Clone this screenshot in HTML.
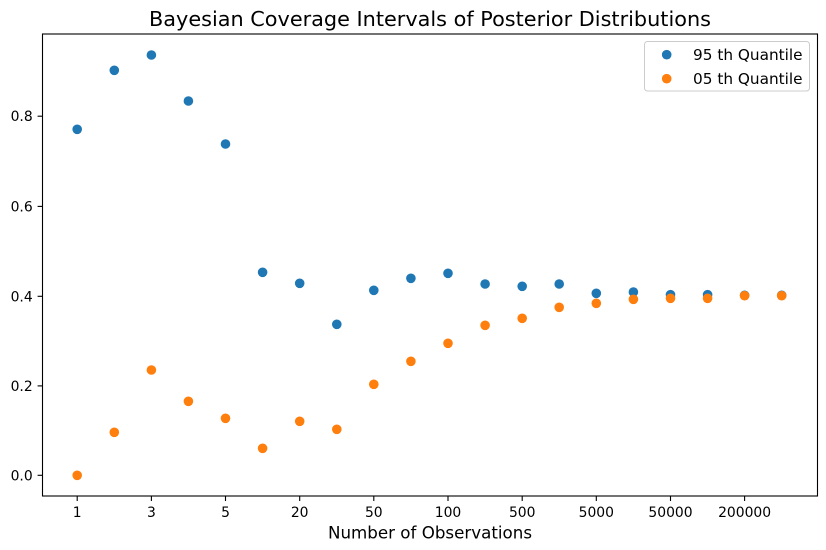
<!DOCTYPE html>
<html>
<head>
<meta charset="utf-8">
<style>
  html,body{margin:0;padding:0;background:#fff;}
  svg{display:block;}
  text{font-family:"DejaVu Sans","Liberation Sans",sans-serif;fill:#000;}
</style>
</head>
<body>
<svg width="826" height="550" viewBox="0 0 826 550" xmlns="http://www.w3.org/2000/svg">
  <rect x="0" y="0" width="826" height="550" fill="#fff"/>
  <!-- title -->
  <text x="430" y="26" font-size="20.8" text-anchor="middle">Bayesian Coverage Intervals of Posterior Distributions</text>

  <!-- blue series -->
  <g fill="#1f77b4">
    <circle cx="77.2" cy="129.3" r="4.8"/>
    <circle cx="114.3" cy="70.3" r="4.8"/>
    <circle cx="151.4" cy="55" r="4.8"/>
    <circle cx="188.4" cy="101" r="4.8"/>
    <circle cx="225.5" cy="144" r="4.8"/>
    <circle cx="262.6" cy="272.3" r="4.8"/>
    <circle cx="299.7" cy="283.3" r="4.8"/>
    <circle cx="336.8" cy="324.3" r="4.8"/>
    <circle cx="373.8" cy="290.3" r="4.8"/>
    <circle cx="410.9" cy="278.3" r="4.8"/>
    <circle cx="448.0" cy="273.3" r="4.8"/>
    <circle cx="485.1" cy="284" r="4.8"/>
    <circle cx="522.2" cy="286.3" r="4.8"/>
    <circle cx="559.2" cy="284" r="4.8"/>
    <circle cx="596.3" cy="293.3" r="4.8"/>
    <circle cx="633.4" cy="292" r="4.8"/>
    <circle cx="670.5" cy="294.7" r="4.8"/>
    <circle cx="707.6" cy="294.7" r="4.8"/>
    <circle cx="744.6" cy="295.3" r="4.8"/>
    <circle cx="781.7" cy="295.3" r="4.8"/>
  </g>
  <!-- orange series -->
  <g fill="#ff7f0e">
    <circle cx="77.2" cy="475.3" r="4.8"/>
    <circle cx="114.3" cy="432.3" r="4.8"/>
    <circle cx="151.4" cy="370" r="4.8"/>
    <circle cx="188.4" cy="401.3" r="4.8"/>
    <circle cx="225.5" cy="418.3" r="4.8"/>
    <circle cx="262.6" cy="448.3" r="4.8"/>
    <circle cx="299.7" cy="421.3" r="4.8"/>
    <circle cx="336.8" cy="429.3" r="4.8"/>
    <circle cx="373.8" cy="384.3" r="4.8"/>
    <circle cx="410.9" cy="361.3" r="4.8"/>
    <circle cx="448.0" cy="343.3" r="4.8"/>
    <circle cx="485.1" cy="325.3" r="4.8"/>
    <circle cx="522.2" cy="318.3" r="4.8"/>
    <circle cx="559.2" cy="307.3" r="4.8"/>
    <circle cx="596.3" cy="303.3" r="4.8"/>
    <circle cx="633.4" cy="299.3" r="4.8"/>
    <circle cx="670.5" cy="298.3" r="4.8"/>
    <circle cx="707.6" cy="298.3" r="4.8"/>
    <circle cx="744.6" cy="295.7" r="4.8"/>
    <circle cx="781.7" cy="295.7" r="4.8"/>
  </g>

  <!-- axes frame -->
  <rect x="42.5" y="34" width="775" height="462" fill="none" stroke="#000" stroke-width="1.1"/>

  <!-- x ticks -->
  <g stroke="#000" stroke-width="1.1">
    <line x1="77.2" y1="496" x2="77.2" y2="501"/>
    <line x1="151.4" y1="496" x2="151.4" y2="501"/>
    <line x1="225.5" y1="496" x2="225.5" y2="501"/>
    <line x1="299.7" y1="496" x2="299.7" y2="501"/>
    <line x1="373.8" y1="496" x2="373.8" y2="501"/>
    <line x1="448.0" y1="496" x2="448.0" y2="501"/>
    <line x1="522.2" y1="496" x2="522.2" y2="501"/>
    <line x1="596.3" y1="496" x2="596.3" y2="501"/>
    <line x1="670.5" y1="496" x2="670.5" y2="501"/>
    <line x1="744.6" y1="496" x2="744.6" y2="501"/>
  </g>
  <g font-size="13.9" text-anchor="middle">
    <text x="77.2" y="517">1</text>
    <text x="151.4" y="517">3</text>
    <text x="225.5" y="517">5</text>
    <text x="299.7" y="517">20</text>
    <text x="373.8" y="517">50</text>
    <text x="448.0" y="517">100</text>
    <text x="522.2" y="517">500</text>
    <text x="596.3" y="517">5000</text>
    <text x="670.5" y="517">50000</text>
    <text x="744.6" y="517">200000</text>
  </g>
  <text x="430" y="538.5" font-size="16.7" text-anchor="middle">Number of Observations</text>

  <!-- y ticks -->
  <g stroke="#000" stroke-width="1.1">
    <line x1="37.6" y1="475.3" x2="42.5" y2="475.3"/>
    <line x1="37.6" y1="385.9" x2="42.5" y2="385.9"/>
    <line x1="37.6" y1="296.3" x2="42.5" y2="296.3"/>
    <line x1="37.6" y1="206.4" x2="42.5" y2="206.4"/>
    <line x1="37.6" y1="116.2" x2="42.5" y2="116.2"/>
  </g>
  <g font-size="13.9" text-anchor="end">
    <text x="32.7" y="480.3">0.0</text>
    <text x="32.7" y="390.9">0.2</text>
    <text x="32.7" y="301.3">0.4</text>
    <text x="32.7" y="211.4">0.6</text>
    <text x="32.7" y="121.2">0.8</text>
  </g>

  <!-- legend -->
  <rect x="644.5" y="41.5" width="165" height="49.5" rx="3" ry="3" fill="#fff" fill-opacity="0.8" stroke="#cccccc" stroke-width="1"/>
  <circle cx="666.7" cy="54.7" r="4.8" fill="#1f77b4"/>
  <circle cx="666.7" cy="78.7" r="4.8" fill="#ff7f0e"/>
  <g font-size="15.3">
    <text x="693" y="60.2">95 th Quantile</text>
    <text x="693" y="84.2">05 th Quantile</text>
  </g>
</svg>
</body>
</html>
